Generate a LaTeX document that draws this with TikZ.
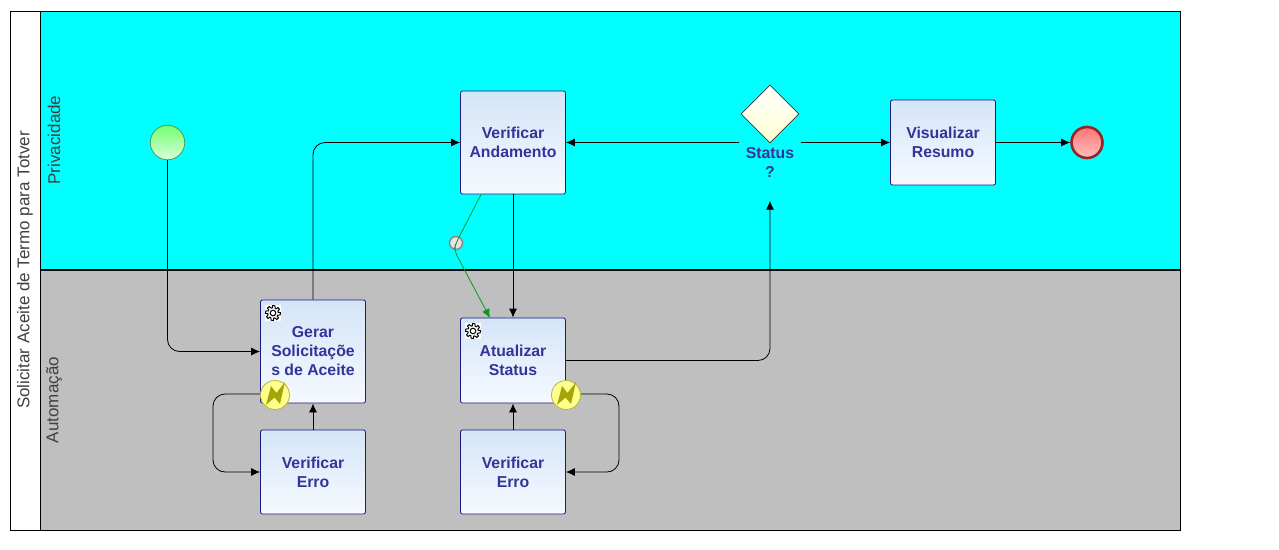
\documentclass[tikz,border=0pt]{standalone}
\usepackage{fontspec}
\setmainfont{Liberation Sans}
\definecolor{bpmcyan}{RGB}{0,255,255}
\definecolor{bpmgray}{RGB}{191,191,191}
\definecolor{bpmnavy}{RGB}{26,26,128}
\definecolor{bpmtext}{RGB}{51,51,153}
\definecolor{bpmlabel}{RGB}{64,64,64}
\definecolor{bpmgreen}{RGB}{10,150,30}
\definecolor{bpmolive}{RGB}{165,165,10}
\definecolor{bpmtop}{RGB}{212,229,248}
\definecolor{bpmbottom}{RGB}{246,249,255}
\definecolor{bpmyellow}{RGB}{255,255,140}
\usetikzlibrary{arrows.meta,positioning,shapes.geometric,calc}
\tikzset{
  tasknode/.style={draw=bpmnavy, line width=0.8pt, top color=bpmtop, bottom color=bpmbottom, rounded corners=2pt, minimum width=105pt, align=center, inner sep=0pt, text=bpmtext, font=\fontsize{15.8}{19}\selectfont\bfseries},
  startnode/.style={circle, draw=green!45!black!70, line width=0.8pt, top color=green!55!white, bottom color=green!15!white, minimum size=34.5pt, inner sep=0pt},
  endnode/.style={circle, draw=red!50!black!85, line width=2.6pt, top color=red!55!white, bottom color=red!25!white, minimum size=31pt, inner sep=0pt},
  gatenode/.style={diamond, draw=black!80, line width=0.6pt, top color=white, bottom color=yellow!18!white, minimum size=58pt, inner sep=0pt},
  boltnode/.style={circle, draw=bpmolive!80, line width=0.8pt, fill=bpmyellow, minimum size=29pt, inner sep=0pt},
  timernode/.style={circle, draw=black!45, line width=1.6pt, fill=white!90!black, minimum size=13pt, inner sep=0pt},
  lanelabel/.style={rotate=90, text=bpmlabel, font=\fontsize{17}{19}\selectfont},
  flowline/.style={draw=black, line width=0.8pt, rounded corners=12pt, -{Latex[length=9pt,width=8pt]}},
  greenflow/.style={draw=bpmgreen, line width=0.8pt, rounded corners=6pt, -{Latex[length=9pt,width=8pt]}},
  gearicon/.pic={
    \fill[white] (-8,-8) rectangle (8,8);
    \draw[black, line width=1pt, fill=white] (7:7.4) \foreach \a in {45,90,...,360}{ -- (\a-30:7.4) -- (\a-20:5.2) -- (\a-8:5.2) -- (\a-3:7.4) -- (\a+7:7.4)} -- cycle;
    \draw[black, line width=1pt] (0,0) circle (2.8);
  },
  zigzag/.pic={
    \fill[bpmolive] (-9,10) -- (-4,-9) -- (1.5,-2) -- (10,-13) -- (5,9) -- (-0.5,2.5) -- cycle;
  }
}

\begin{document}
\begin{tikzpicture}[x=1pt, y=-1pt]
  \useasboundingbox (0,0) rectangle (1279,549);

  % pool and lanes
  \fill[bpmcyan] (40,11) rectangle (1180,270);
  \fill[bpmgray] (40,270) rectangle (1180,530);
  \draw[black, line width=1pt] (10,11) rectangle (1180,530);
  \draw[black, line width=1pt] (40,11) -- (40,530);
  \draw[black, line width=2pt] (40,270) -- (1180,270);

  \node[lanelabel] (poollabel) at (25,270) {Solicitar Aceite de Termo para Totver};
  \node[lanelabel] (privlabel) at (54,140) {Privacidade};
  \node[lanelabel] (autolabel) at (54,400) {Automação};

  % events and tasks
  \node[startnode] (inicio) at (167.5,142.5) {};
  \node[endnode] (fim) at (1087,142.5) {};

  \node[tasknode, minimum height=103pt] (andamento) at (513,142.5) {Verificar\\Andamento};
  \node[tasknode, minimum height=85pt] (resumo) at (943,142.5) {Visualizar\\Resumo};
  \node[tasknode, minimum height=103pt] (gerar) at (313,351.5) {Gerar\\Solicitaçõe\\s de Aceite};
  \node[tasknode, minimum height=85pt] (atualizar) at (513,360.5) {Atualizar\\Status};
  \node[tasknode, minimum height=84pt] (erroa) at (313,472) {Verificar\\Erro};
  \node[tasknode, minimum height=84pt] (errob) at (513,472) {Verificar\\Erro};

  % gateway
  \node[gatenode] (status) at (770,114) {};
  \node[minimum width=61pt, minimum height=116pt, inner sep=0pt] (statusbox) at (770,142.5) {};
  \node[align=center, inner sep=0pt, text=bpmtext, font=\fontsize{15.8}{19}\selectfont\bfseries] (statuslabel) at (770,162.5) {Status\\?};

  % icons
  \pic at (273,313) {gearicon};
  \pic at (473,331) {gearicon};
  \node[boltnode] (boltgerar) at (275,395) {};
  \node[boltnode] (boltatualizar) at (566,395) {};
  \pic at (275,395) {zigzag};
  \pic at (566,395) {zigzag};
  \node[timernode] (timer) at (456,243) {};

  \coordinate (loopa) at (213,432);
  \coordinate (loopb) at (619,432);
  \coordinate (greenout) at (481,194.5);
  \coordinate (greenin) at (490,318);

  % connectors
  \draw[flowline] (inicio.south) |- (gerar.west);
  \draw[flowline] (gerar.north) |- (andamento.west);
  \draw[flowline] (andamento.south) -- (atualizar.north);
  \draw[flowline] (statusbox.west) -- (andamento.east);
  \draw[flowline] (statusbox.east) -- (resumo.west);
  \draw[flowline] (resumo.east) -- (fim.west);
  \draw[flowline] (atualizar.east) -| (statusbox.south);
  \draw[flowline] (erroa.north) -- (gerar.south);
  \draw[flowline] (errob.north) -- (atualizar.south);
  \draw[flowline] (boltgerar.west |- 0,394) -| (loopa) |- (erroa.west);
  \draw[flowline] (boltatualizar.east |- 0,394) -| (loopb) |- (errob.east);
  \draw[greenflow] (greenout) -- (timer.center) -- (454,250) -- (greenin);
\end{tikzpicture}
\end{document}
